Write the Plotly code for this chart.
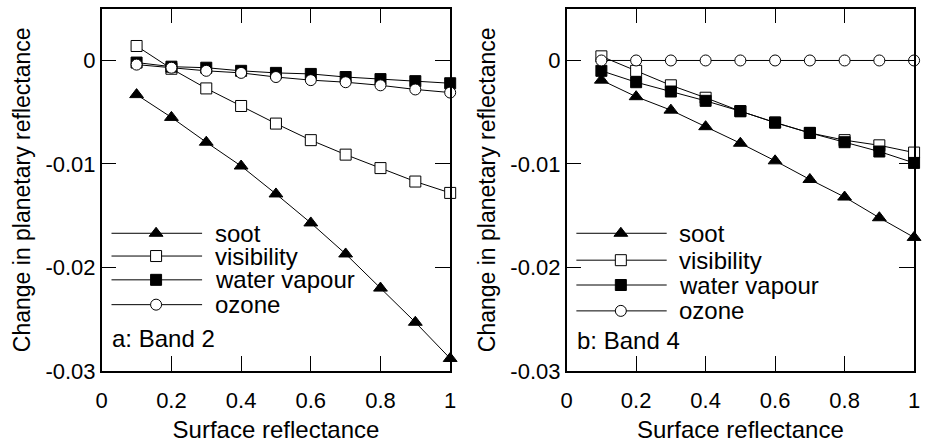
import plotly.graph_objects as go

W, H = 926, 447

surface = [0.1, 0.2, 0.3, 0.4, 0.5, 0.6, 0.7, 0.8, 0.9, 1.0]

# Band 2
b2_soot = [-0.0033, -0.0055, -0.0079, -0.0102, -0.0129, -0.0157, -0.0187, -0.0220, -0.0253, -0.0288]
b2_vis = [0.0014, -0.0008, -0.0027, -0.0044, -0.0061, -0.0077, -0.0091, -0.0104, -0.0117, -0.0128]
b2_wv = [-0.0002, -0.0006, -0.0007, -0.0010, -0.0012, -0.0013, -0.0016, -0.0018, -0.0020, -0.0022]
b2_oz = [-0.0004, -0.0007, -0.0010, -0.0012, -0.0016, -0.0019, -0.0021, -0.0024, -0.0028, -0.0031]

# Band 4
b4_soot = [-0.0019, -0.0035, -0.0048, -0.0064, -0.0080, -0.0097, -0.0115, -0.0132, -0.0152, -0.0171]
b4_vis = [0.0004, -0.0010, -0.0024, -0.0036, -0.0049, -0.0060, -0.0070, -0.0077, -0.0082, -0.0089]
b4_wv = [-0.0010, -0.0021, -0.0030, -0.0039, -0.0049, -0.0060, -0.0070, -0.0079, -0.0088, -0.0099]
b4_oz = [0.0, 0.0, 0.0, 0.0, 0.0, 0.0, 0.0, 0.0, 0.0, 0.0]

series_names = ["soot", "visibility", "water vapour", "ozone"]
panel_labels = ["a: Band 2", "b: Band 4"]

x_ticks = [0, 0.2, 0.4, 0.6, 0.8, 1]
x_ticktext = ["0", "0.2", "0.4", "0.6", "0.8", "1"]
y_ticks = [0, -0.01, -0.02, -0.03]
y_ticktext = ["0", "-0.01", "-0.02", "-0.03"]

# legend placement (data coordinates)
leg_x = [0.028, 0.288]
leg_mid = 0.156
leg_text_x = 0.318
leg_y = [[-0.0167, -0.0189, -0.0212, -0.0236], [-0.0167, -0.0193, -0.0217, -0.0242]]
label_y = [-0.0269, -0.0271]

FONT = "Liberation Sans, Arial, sans-serif"

styles = [
    dict(symbol="triangle-up", size=12, color="black", line=dict(color="black", width=1)),
    dict(symbol="square", size=11, color="white", line=dict(color="black", width=1)),
    dict(symbol="square", size=11, color="black", line=dict(color="black", width=1)),
    dict(symbol="circle", size=11, color="white", line=dict(color="black", width=1)),
]

fig = go.Figure()

panels = [
    ("x", "y", [b2_soot, b2_vis, b2_wv, b2_oz]),
    ("x2", "y2", [b4_soot, b4_vis, b4_wv, b4_oz]),
]

for p, (xa, ya, data) in enumerate(panels):
    for i, vals in enumerate(data):
        fig.add_trace(go.Scatter(
            x=surface, y=vals, xaxis=xa, yaxis=ya, mode="lines+markers",
            line=dict(color="black", width=1), marker=styles[i],
            showlegend=False, hoverinfo="skip", cliponaxis=False,
        ))
    # custom legend
    for i, name in enumerate(series_names):
        yy = leg_y[p][i]
        fig.add_trace(go.Scatter(
            x=[leg_x[0], leg_x[1]], y=[yy, yy], xaxis=xa, yaxis=ya, mode="lines",
            line=dict(color="black", width=1), showlegend=False, hoverinfo="skip",
        ))
        fig.add_trace(go.Scatter(
            x=[leg_mid], y=[yy], xaxis=xa, yaxis=ya, mode="markers",
            marker=styles[i], showlegend=False, hoverinfo="skip",
        ))
        fig.add_annotation(
            x=leg_text_x, y=yy, xref=xa, yref=ya, text=name, showarrow=False,
            xanchor="left", yanchor="middle", font=dict(family=FONT, size=24, color="black"),
        )
    fig.add_annotation(
        x=0.025, y=label_y[p], xref=xa, yref=ya, text=panel_labels[p], showarrow=False,
        xanchor="left", yanchor="middle", font=dict(family=FONT, size=24, color="black"),
    )

xdomains = [[97 / W, 450 / W], [568 / W, 920 / W]]
ydomain = [1 - 382 / H, 1 - 9 / H]

axis_common = dict(
    showline=True, mirror="ticks", linecolor="black", linewidth=1.5,
    ticks="inside", ticklen=15, tickwidth=1, tickcolor="black",
    showgrid=False, zeroline=False,
    tickfont=dict(family=FONT, size=22, color="black"),
)

for p in range(2):
    xk = "xaxis" if p == 0 else "xaxis2"
    yk = "yaxis" if p == 0 else "yaxis2"
    fig.update_layout(**{
        xk: dict(axis_common, domain=xdomains[p], range=[0, 1], tickvals=x_ticks,
                 ticktext=x_ticktext, anchor="y" if p == 0 else "y2",
                 ticklabelstandoff=9,
                 title=dict(text="Surface reflectance", standoff=9,
                            font=dict(family=FONT, size=24, color="black"))),
        yk: dict(axis_common, domain=ydomain, range=[-0.03, 0.005], tickvals=y_ticks,
                 ticktext=y_ticktext, anchor="x" if p == 0 else "x2",
                 title=dict(text="Change in planetary reflectance", standoff=8,
                            font=dict(family=FONT, size=23, color="black"))),
    })

fig.update_layout(
    width=W, height=H, margin=dict(l=0, r=0, t=0, b=0),
    plot_bgcolor="white", paper_bgcolor="white",
    font=dict(family=FONT, color="black"),
)

fig.write_html("out.html")
